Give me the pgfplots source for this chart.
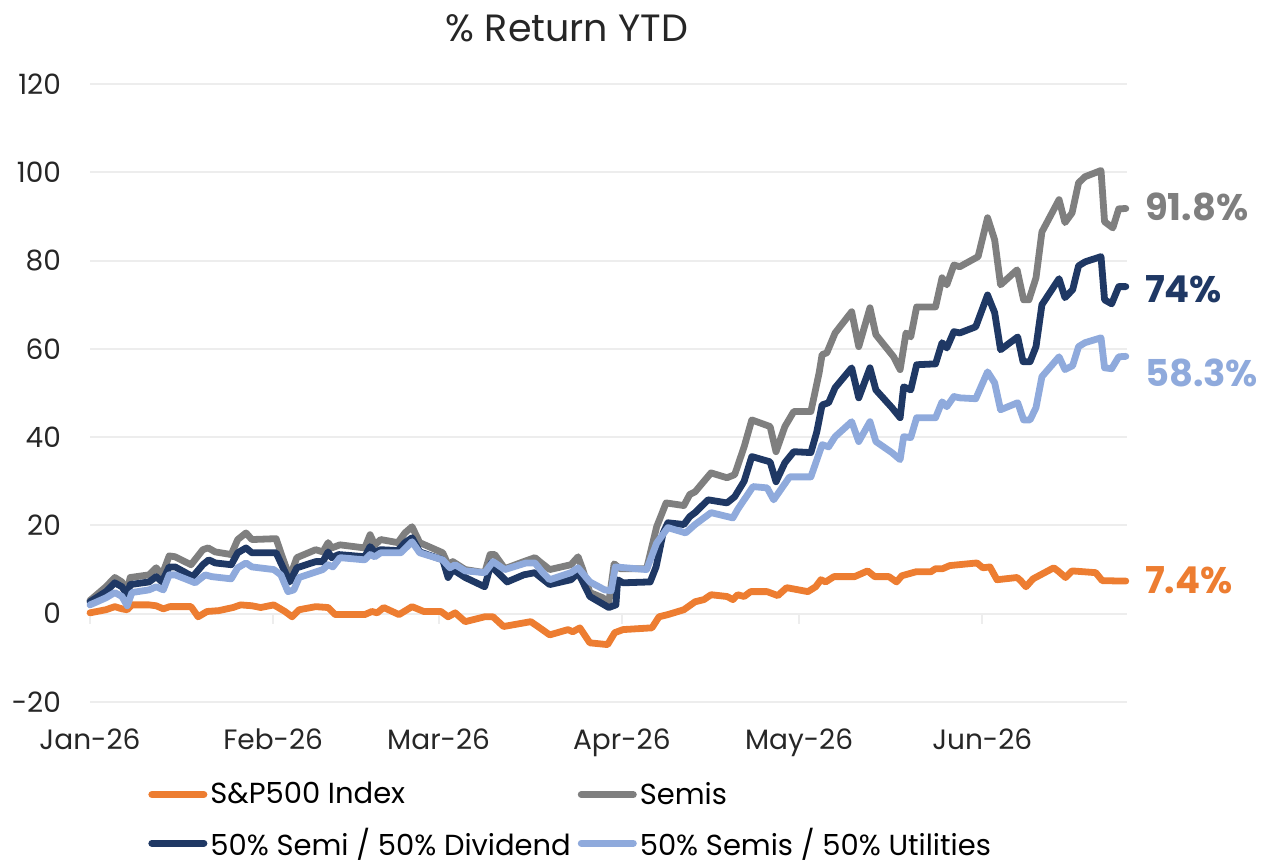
\documentclass[border=0pt]{standalone}
\usepackage{pgfplots}
\pgfplotsset{compat=1.18}
\usepackage{fontspec}
\setmainfont{Poppins}
\definecolor{cOrange}{HTML}{ED7D31}
\definecolor{cGray}{HTML}{7F7F7F}
\definecolor{cNavy}{HTML}{1F3864}
\definecolor{cLight}{HTML}{8FAADC}
\definecolor{cGrid}{HTML}{EDEDED}
\begin{document}
\begin{tikzpicture}
\path[use as bounding box] (-45pt,-81.5pt) rectangle (585.5pt,351pt);
\begin{axis}[
  scale only axis,
  width=518.5pt, height=309pt,
  xmin=0, xmax=175.5, ymin=-20, ymax=120,
  axis line style={draw=none},
  major tick length=0pt,
  xtick={0,31,59,90,120,151},
  xticklabels={Jan-26,Feb-26,Mar-26,Apr-26,May-26,Jun-26},
  ytick={-20,0,20,40,60,80,100,120},
  ymajorgrids, grid style={cGrid, line width=1pt},
  tick label style={font=\fontsize{14}{16}\selectfont, text=black!85},
  /pgf/number format/assume math mode=true,
  yticklabel style={xshift=-11pt},
  xticklabel style={yshift=-10pt},
  clip=false,
  legend columns=2,
  legend cell align=left,
  legend style={draw=none, fill=none, at={(0.0559,-0.124)}, anchor=north west,
    font=\fontsize{14.5}{17}\selectfont, inner sep=0pt, row sep=7.5pt,
    nodes={inner sep=1.5pt},
    /tikz/every even column/.append style={column sep=2pt}},
  legend image code/.code={\draw[#1, line width=3.5pt, line cap=round] (0pt,0pt) -- (26pt,0pt);},
  every axis plot/.append style={line width=3.4pt, line join=round, line cap=round},
]
\draw[cGrid, line width=1pt] (axis cs:0,0) -- ([yshift=-5pt]axis cs:0,0);
\draw[cGrid, line width=1pt] (axis cs:31,0) -- ([yshift=-5pt]axis cs:31,0);
\draw[cGrid, line width=1pt] (axis cs:59,0) -- ([yshift=-5pt]axis cs:59,0);
\draw[cGrid, line width=1pt] (axis cs:90,0) -- ([yshift=-5pt]axis cs:90,0);
\draw[cGrid, line width=1pt] (axis cs:120,0) -- ([yshift=-5pt]axis cs:120,0);
\draw[cGrid, line width=1pt] (axis cs:151,0) -- ([yshift=-5pt]axis cs:151,0);

% S&P500 Index
\addplot[cOrange] coordinates {
(0,0.2)(2.7,0.9)(4.2,1.6)(5.4,1.1)(6.3,0.9)(7.1,2.0)(10,2.0)(11.2,1.8)(12.4,1.1)(13.5,1.6)
(17.1,1.6)(18.3,-0.7)(19.8,0.5)(21.8,0.7)(24.2,1.4)(25.5,2.0)(27.4,1.8)(28.9,1.4)(31.1,2.0)
(33,0.5)(34.2,-0.7)(35.4,0.9)(38.2,1.6)(40.3,1.4)(41.5,-0.2)(46.5,-0.2)(47.7,0.5)(48.6,0.2)
(49.7,1.4)(52.3,-0.2)(54.5,1.6)(56.5,0.5)(59.4,0.5)(60.6,-0.7)(61.8,0.2)(63.5,-1.8)(66.8,-0.7)
(68.2,-0.7)(70,-2.9)(74.6,-1.8)(75.8,-2.9)(77.8,-4.8)(80.9,-3.6)(81.7,-4.1)(82.9,-3.2)
(84.6,-6.6)(87.6,-7.0)(88.8,-4.3)(90.2,-3.6)(95.1,-3.2)(96.3,-0.7)(97.8,-0.2)(100.5,0.9)
(102.4,2.7)(103.9,3.2)(105.1,4.3)(107.8,3.9)(108.8,3.2)(109.6,4.3)(110.7,3.9)(111.8,5.0)
(114.6,5.0)(116.4,4.1)(117.9,5.9)(121.5,5.0)(122.8,6.1)(123.7,7.7)(124.5,7.2)(125.9,8.4)
(129.4,8.4)(131.6,9.7)(132.8,8.4)(135.2,8.4)(136.5,7.2)(137.4,8.6)(139.8,9.5)(142.3,9.5)
(143.1,10.2)(144.3,10.2)(145.5,10.9)(150.1,11.5)(151.1,10.4)(152.3,10.6)(153.5,7.7)
(156.9,8.2)(157.5,7.5)(158.4,6.1)(159.6,7.9)(163.1,10.4)(163.8,9.7)(165.1,8.2)(166.2,9.7)
(170.2,9.3)(171.3,7.5)(174.3,7.4)(175.3,7.4)
};
\addlegendentry{S\&P500 Index}

% Semis
\addplot[cGray] coordinates {
(0,3.0)(2.7,6.1)(4.2,8.2)(5.4,7.2)(6.3,5.0)(6.8,8.2)(10,8.8)(11.2,10.4)(12.2,8.8)(13.4,13.1)
(14.4,12.9)(17.1,11.1)(19.1,14.5)(20,14.9)(21.2,14.0)(23.9,13.4)(25,16.8)(26.4,18.3)(27.4,16.8)
(31.5,17.0)(32.3,13.8)(33.8,8.2)(35,12.7)(38.2,14.5)(39.4,14.0)(40.3,16.1)(40.9,14.9)(42.3,15.6)
(46.5,14.9)(47.4,17.9)(48.2,15.6)(49.2,16.8)(52.1,16.1)(53.3,18.3)(54.5,19.7)(55.8,16.1)
(59.7,13.8)(60.6,11.1)(61.4,11.8)(63.5,10.0)(66.8,9.3)(67.7,13.4)(68.5,13.4)(70.2,10.2)
(73.4,11.8)(75.3,12.7)(76.1,11.8)(77.8,10.0)(81.4,11.1)(82.6,12.9)(83.4,10.0)(84.6,4.8)
(86.8,3.6)(87.8,2.5)(88.7,11.3)(89.7,10.2)(94.2,10.2)(95.9,19.7)(97.5,25.1)(100.5,24.5)
(101.5,27.0)(102.4,27.6)(103.9,30.0)(105.1,31.9)(107.8,30.8)(109.1,31.5)(110.7,37.8)
(112,43.9)(115.1,42.4)(116.1,36.7)(117.6,42.4)(119.1,45.8)(122,45.8)(123.4,54.6)(123.9,58.7)
(124.7,59.1)(126.1,63.6)(128.9,68.4)(130.1,60.5)(132,69.3)(133,63.2)(136,58.2)(137.1,55.3)
(138.1,63.6)(138.9,62.7)(139.9,69.5)(143.1,69.5)(144.2,76.1)(145,74.5)(146.2,79.0)(147.2,78.6)
(150.3,80.9)(151.9,89.7)(153.1,84.7)(154.1,74.5)(156.9,77.9)(158,71.1)(158.9,71.1)(160.1,76.1)
(161.1,86.5)(164,93.8)(165,88.6)(166.2,90.8)(167.3,97.6)(168.4,99.0)(171.1,100.4)(171.7,88.8)
(173.1,87.4)(174.1,91.7)(175.3,91.8)
};
\addlegendentry{Semis}

% 50% Semi / 50% Dividend
\addplot[cNavy] coordinates {
(0,2.7)(2.7,5.0)(4.2,7.0)(5.4,6.1)(6.3,4.3)(6.8,6.6)(10,7.2)(11.2,8.4)(12.2,7.2)(13.4,10.6)
(14.4,10.6)(17.4,8.4)(19.1,11.1)(20.1,12.2)(21.2,11.5)(23.9,11.1)(25,13.8)(26.4,14.9)(27.4,13.8)
(31.5,13.8)(32.3,11.5)(33.8,7.2)(35,10.4)(38.2,11.8)(39.4,11.8)(40.3,14.0)(40.9,12.7)(42.1,13.4)
(46.5,12.9)(47.4,15.2)(48.2,14.0)(49.2,14.5)(52.1,14.3)(53.3,16.1)(54.5,17.2)(55.8,14.0)
(59.7,12.2)(60.6,8.2)(61.4,10.0)(63.5,8.2)(66.8,6.1)(67.9,11.5)(68.5,10.0)(70.6,7.2)(73.4,8.8)
(75.3,9.3)(76.1,8.4)(77.8,6.6)(81.4,7.7)(82.6,9.3)(83.4,7.2)(84.6,3.9)(87.8,1.4)(89,2.0)
(89.3,7.7)(90.2,7.0)(94.8,7.2)(95.8,10.6)(97,18.3)(97.8,20.6)(100.5,20.2)(101.5,22.0)
(102.4,22.9)(104.6,25.8)(107.8,25.1)(109.1,26.5)(110.7,30.0)(112,35.6)(115.1,34.4)(116.1,29.9)
(117.6,34.2)(119.1,36.7)(122,36.5)(123,41.2)(123.9,47.3)(125,47.8)(126.1,51.2)(128.9,55.7)
(130.1,48.9)(132,55.7)(133,50.7)(135.7,46.7)(137.1,44.4)(137.7,51.4)(138.9,50.7)(139.9,56.4)
(143.1,56.6)(144.2,61.4)(145,60.2)(146.2,63.9)(147.2,63.6)(149.9,65.0)(151.9,72.2)(153.1,68.2)
(154.1,59.8)(157,62.7)(157.9,57.1)(159.1,57.1)(160.1,60.5)(161.1,70.0)(164,75.9)(165,71.6)
(166.3,73.4)(167.3,78.8)(168.4,79.7)(171.1,80.9)(171.7,71.1)(172.9,70.2)(174.1,74.1)(175.3,74.1)
};
\addlegendentry{50\% Semi / 50\% Dividend}

% 50% Semis / 50% Utilities
\addplot[cLight] coordinates {
(0,2.0)(2.7,3.6)(4.2,4.8)(5.4,3.9)(6.3,1.8)(7.1,4.8)(10,5.4)(11.2,6.1)(12.4,5.4)(13.4,8.8)
(14.4,8.8)(17.8,7.0)(19.5,8.8)(20.6,8.4)(23.9,7.9)(25,10.4)(26.4,11.5)(27.4,10.6)(31.1,10.0)
(32.3,8.8)(33.5,5.0)(34.5,5.4)(35.4,8.2)(39.4,10.0)(40.3,11.1)(41.1,10.6)(42.3,12.7)(46.5,12.2)
(47.4,13.4)(48.2,12.9)(49.2,13.8)(52.6,13.8)(54.5,16.3)(55.8,13.8)(59.7,12.2)(60.9,10.4)
(61.8,11.1)(63.5,9.7)(66.8,9.3)(68.2,11.8)(70.2,10.0)(73.8,11.5)(75.3,11.5)(76.5,9.5)(77.8,7.7)
(81.4,9.3)(82.6,10.4)(84.6,7.2)(87.1,5.4)(88.2,5.2)(88.9,10.6)(94.2,10.0)(95.9,16.0)(97.8,19.5)
(100.8,18.3)(102.4,20.2)(105.1,22.9)(108.8,21.7)(109.6,23.6)(112.2,28.8)(114.6,28.5)(115.7,25.8)
(118.4,31.0)(122,31.0)(123.9,38.3)(125,37.8)(126.1,40.1)(128.9,43.5)(130.1,39.0)(132,43.5)
(133,39.0)(135.7,36.5)(137.1,34.9)(137.7,40.1)(138.9,39.9)(139.9,44.4)(143.1,44.4)(144.2,48.0)
(145,46.9)(146.2,49.2)(147.2,48.9)(149.9,48.7)(151.9,54.8)(153.1,52.3)(154.1,46.2)(157,47.8)
(158,43.9)(159.1,43.9)(160.1,46.7)(161.1,53.7)(164,58.2)(165,55.3)(166.3,56.2)(167.3,60.5)
(168.4,61.4)(171.1,62.5)(171.7,55.7)(172.9,55.5)(174.1,58.2)(175.3,58.3)
};
\addlegendentry{50\% Semis / 50\% Utilities}

\node[anchor=west, inner sep=0pt, text=cGray, font=\fontsize{18.5}{20}\selectfont\bfseries] at (axis cs:178.5,92.2) {91.8\%};
\node[anchor=west, inner sep=0pt, text=cNavy, font=\fontsize{18.5}{20}\selectfont\bfseries] at (axis cs:178.5,73.6) {74\%};
\node[anchor=west, inner sep=0pt, text=cLight, font=\fontsize{18.5}{20}\selectfont\bfseries] at (axis cs:178.5,54.6) {58.3\%};
\node[anchor=west, inner sep=0pt, text=cOrange, font=\fontsize{18.5}{20}\selectfont\bfseries] at (axis cs:178.5,7.5) {7.4\%};
\end{axis}
\node[font=\fontsize{19}{22}\selectfont, text=black!85] at (238.5pt,337pt) {\% Return YTD};
\end{tikzpicture}
\end{document}
